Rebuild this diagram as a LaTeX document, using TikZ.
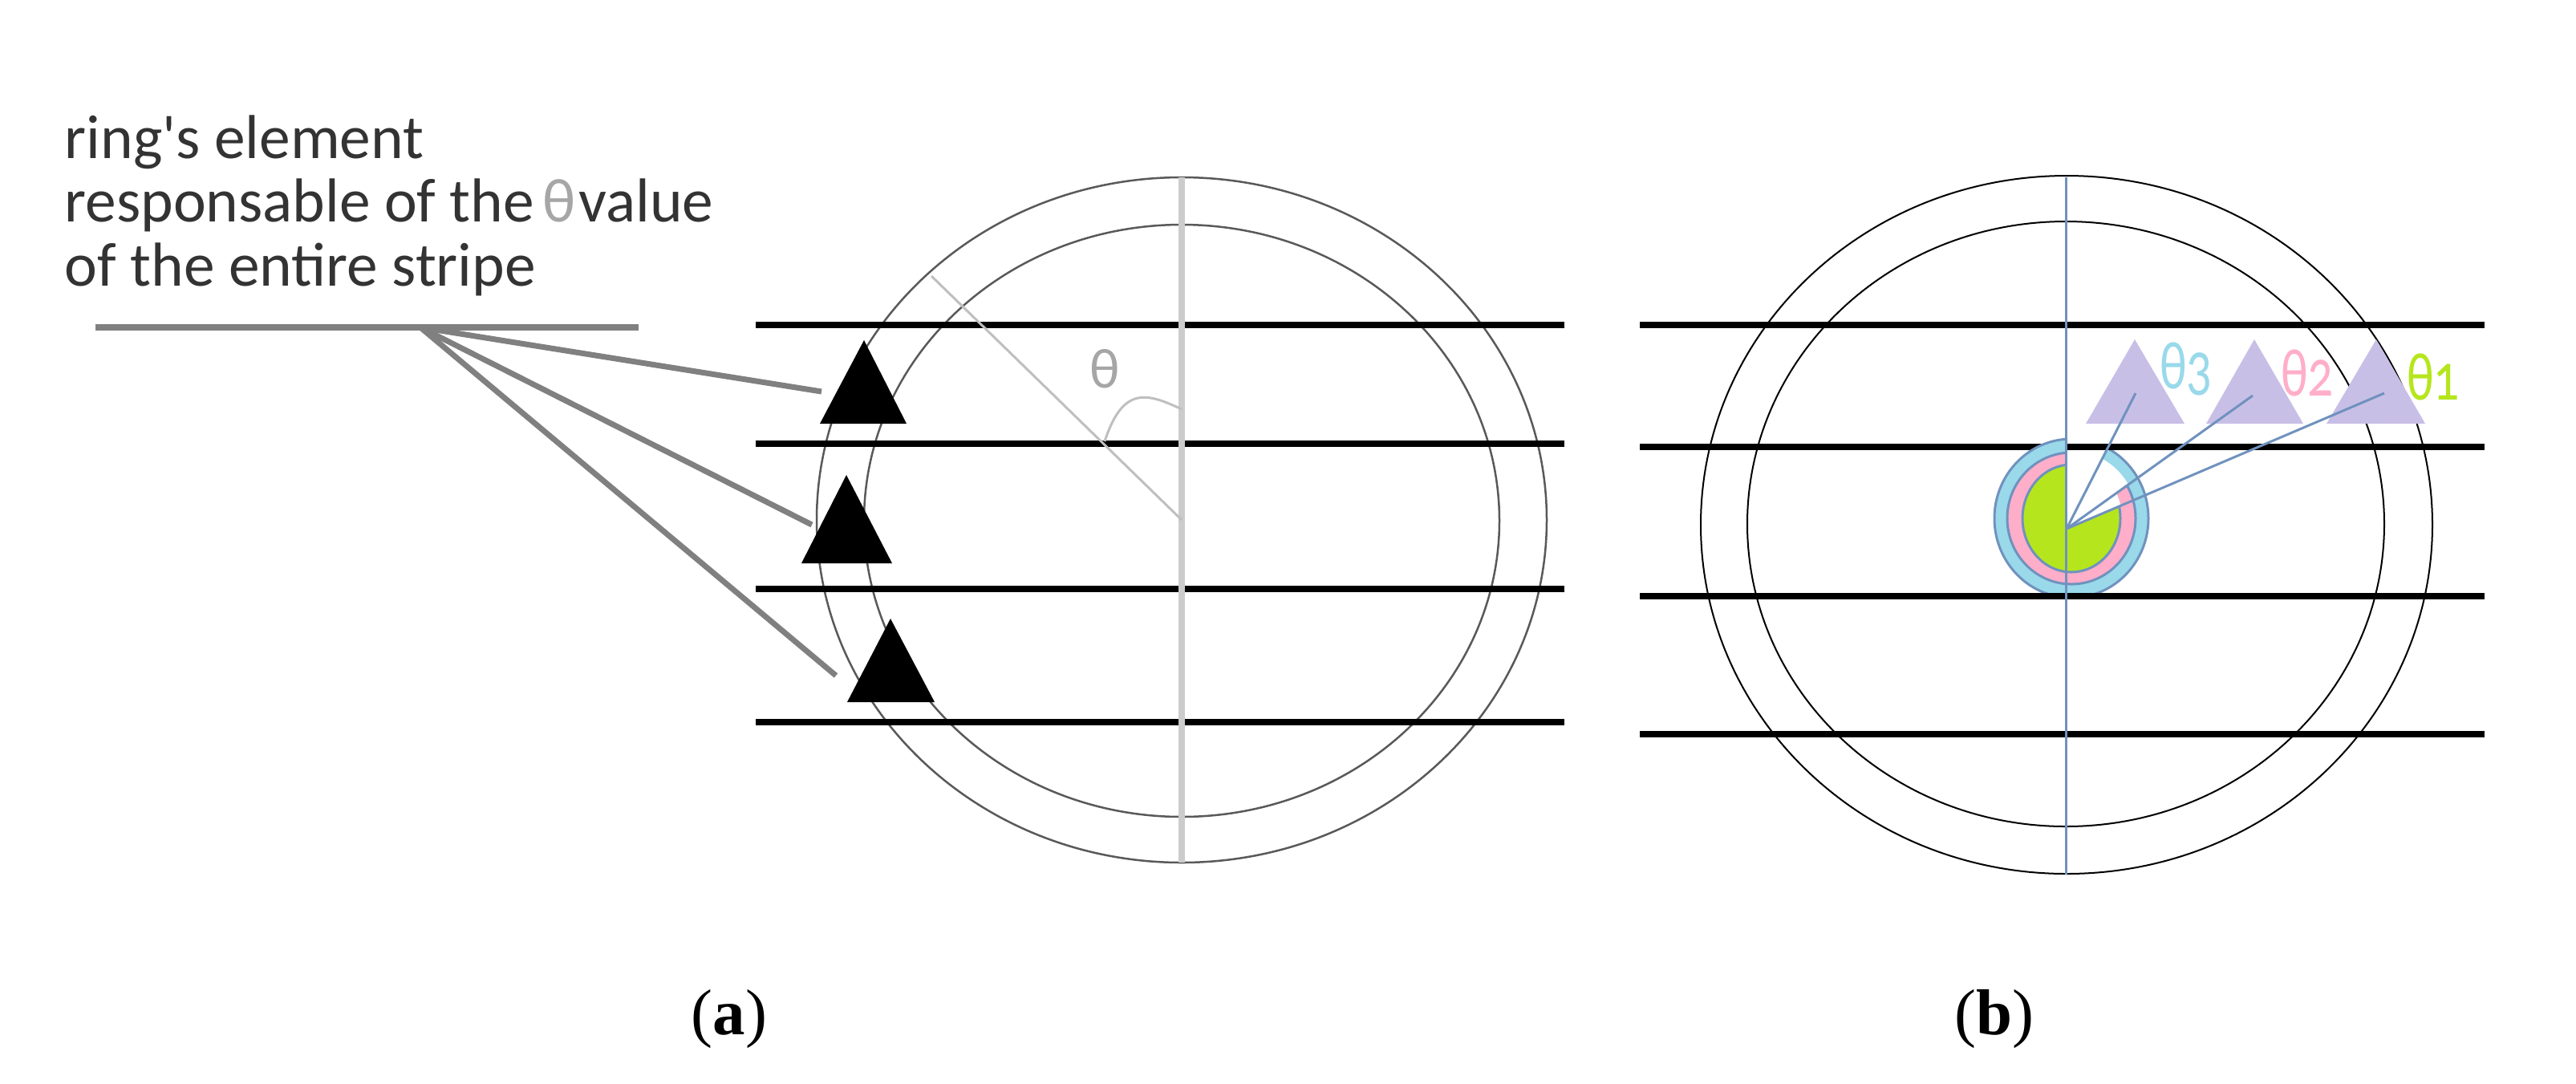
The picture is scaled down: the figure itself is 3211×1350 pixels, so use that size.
\documentclass[tikz,border=0pt]{standalone}
\usetikzlibrary{calc}
\usepackage{fontspec}
\setmainfont{Carlito}[Numbers=OldStyle]
\newfontfamily\capfont{Liberation Serif}
\definecolor{ringblue}{HTML}{99D9EA}
\definecolor{ringpink}{HTML}{FFAEC9}
\definecolor{ringgreen}{HTML}{B5E61D}
\definecolor{rayblue}{HTML}{7092BE}
\definecolor{lilac}{HTML}{C8BFE7}
\tikzset{
  stripe/.style={line width=0.08cm, black},
  ringline/.style={line width=0.02cm},
  ray/.style={line width=0.03cm, rayblue},
  pointer/.style={line width=0.07cm, black!50},
  lbl/.style={inner sep=0, font=\fontsize{20}{24}\selectfont},
  sublabel/.style={inner sep=0, font=\capfont\fontsize{23}{27}\selectfont}
}
\newcommand{\tallname}[1]{\scalebox{0.9}[1.2]{#1}}
\begin{document}
\begin{tikzpicture}[x=0.01cm, y=-0.01cm]
    \useasboundingbox (0, 0) rectangle (3211, 1350);

    % left rings
    \draw [line width=0.025cm, black!65] (1473, 648) ellipse [x radius=455, y radius=427];
    \draw [line width=0.025cm, black!65] (1473, 649) ellipse [x radius=396, y radius=369];

    % left stripes
    \foreach \y in {405, 553, 734, 900} {
      \draw [stripe] (942, \y) -- (1950, \y);
    }

    % left axis and angle
    \draw [line width=0.08cm, black!20] (1473, 221) -- (1473, 1075);
    \draw [line width=0.03cm, black!25] (1473, 648) -- (1161, 344);
    \draw [line width=0.03cm, black!25] (1377, 550) .. controls (1400, 480) and (1430, 490) .. (1473, 510);
    \node [lbl, text=black!35] (theta) at (1377, 460) {θ};

    % ring elements
    \fill [black] (1077, 424) coordinate (elemA) -- (1130, 528) -- (1022, 528) -- cycle;
    \fill [black] (1055, 592) coordinate (elemB) -- (1112, 702) -- (999, 702) -- cycle;
    \fill [black] (1110, 771) coordinate (elemC) -- (1165, 875) -- (1056, 875) -- cycle;

    % caption line and pointers
    \node [lbl, anchor=north west, align=left, text=black!80, font=\fontsize{22}{22.6}\selectfont] (note) at (80, 143)
      {ring\textquotesingle s element\\responsable of the\hspace{3pt}{\color{black!35}θ}\hspace{1pt}value\\of the entire stripe};
    \coordinate (barL) at (119, 408);
    \coordinate (barR) at (796, 408);
    \coordinate (hub) at (524, 408);
    \coordinate (tipA) at (1024, 488);
    \coordinate (tipB) at (1012, 654);
    \coordinate (tipC) at (1042, 842);
    \draw [line width=0.08cm, black!50] (barL) -- (barR);
    \foreach \t in {tipA, tipB, tipC} {
      \draw [pointer] (hub) -- (\t);
    }

    % right rings
    \draw [ringline] (2576, 654) ellipse [x radius=456, y radius=435];
    \draw [ringline] (2575, 653) ellipse [x radius=397, y radius=377];

    % right stripes
    \foreach \y in {405, 557, 743, 915} {
      \draw [stripe] (2044, \y) -- (3097, \y);
    }

    % angle sectors
    \coordinate (vertex) at (2576, 659);
    \coordinate (endA) at (2972, 490);
    \coordinate (endB) at (2808, 493);
    \coordinate (endC) at (2662, 490);
    \foreach \col/\rx/\ry/\t in {ringblue/96/99/endC, ringpink/80/82/endB, ringgreen/61/67/endA} {
      \draw [ray, fill=\col] (2582, 646) ellipse [x radius=\rx, y radius=\ry];
      \begin{scope}
        \clip (2582, 646) ellipse [x radius=\rx+2, y radius=\ry+2];
        \fill [white] (vertex) -- (2576, 400) -- ($(vertex)!3!(\t)$) -- cycle;
      \end{scope}
    }

    % stripes that run over the sectors
    \draw [stripe] (2576, 557) -- (3097, 557);
    \draw [stripe] (2044, 743) -- (3097, 743);

    % right elements
    \fill [lilac] (2661, 423) -- (2723, 528) -- (2600, 528) -- cycle;
    \fill [lilac] (2810, 423) -- (2871, 528) -- (2750, 528) -- cycle;
    \fill [lilac] (2962, 423) -- (3023, 528) -- (2900, 528) -- cycle;

    % rays
    \draw [ray] (2575, 221) -- (2575, 1090);
    \foreach \t in {endA, endB, endC} {
      \draw [ray] (vertex) -- (\t);
    }

    % labels
    \node [lbl, text=ringblue] (thetaC) at (2725, 460) {\tallname{θ3}};
    \node [lbl, text=ringpink] (thetaB) at (2876, 465) {\tallname{θ2}};
    \node [lbl, text=ringgreen] (thetaA) at (3033, 470) {\tallname{θ1}};
    \node [sublabel] (capA) at (909, 1270) {(\textbf{a})};
    \node [sublabel] (capB) at (2486, 1270) {(\textbf{b})};
\end{tikzpicture}
\end{document}
